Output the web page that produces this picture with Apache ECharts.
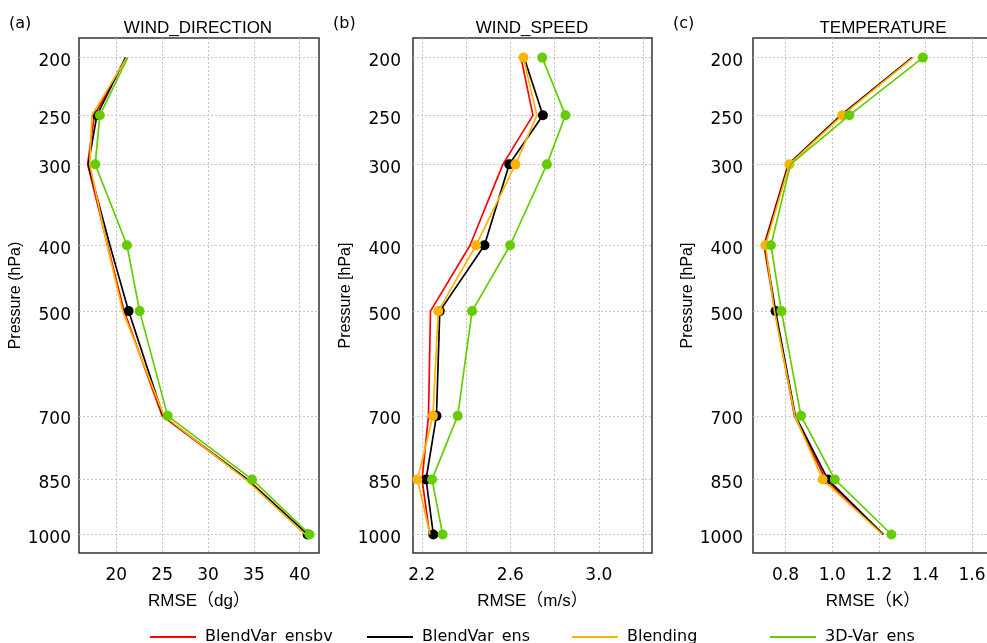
<!DOCTYPE html>
<html>
<head>
<meta charset="utf-8">
<script src="https://cdn.jsdelivr.net/npm/echarts@6/dist/echarts.min.js"></script>
<style>
  html, body { margin: 0; padding: 0; background: #ffffff; }
  #chart { width: 987px; height: 643px; }
</style>
</head>
<body>
<div id="chart"></div>
<script>
// Pressure levels (hPa) and labels
const levels = [200, 250, 300, 400, 500, 700, 850, 1000];
const seriesNames = ['BlendVar_ensbv', 'BlendVar_ens', 'Blending', '3D-Var_ens'];
const panelTitles = ['WIND_DIRECTION', 'WIND_SPEED', 'TEMPERATURE'];
const panelTags = ['(a)', '(b)', '(c)'];
const xAxisNames = ['RMSE（dg）', 'RMSE（m/s）', 'RMSE（K）'];
const yAxisNames = ['Pressure (hPa)', 'Pressure [hPa]', 'Pressure [hPa]'];

// x-axis grid / label positions per panel
const dirTicks = [20, 25, 30, 35, 40];
const dirLabels = [20, 25, 30, 35, 40];
const spdTicks = [2.2, 2.4, 2.6, 2.8, 3.0, 3.2];
const spdLabels = [2.2, 2.6, 3.0];
const tmpTicks = [0.8, 1.0, 1.2, 1.4, 1.6];
const tmpLabels = [0.8, 1.0, 1.2, 1.4, 1.6];

// RMSE profiles: wind direction (dg)
const dirEnsbv = [21.05, 17.60, 16.87, 19.05, 20.85, 25.00, 34.20, 40.65];
const dirEns   = [21.00, 17.88, 16.94, 19.30, 21.34, 25.10, 34.30, 40.85];
const dirBlend = [21.13, 17.34, 17.10, 19.00, 20.70, 25.20, 34.10, 40.60];
const dirVar   = [21.24, 18.20, 17.70, 21.16, 22.54, 25.60, 34.80, 41.07];

// RMSE profiles: wind speed (m/s)
const spdEnsbv = [2.648, 2.702, 2.566, 2.418, 2.239, 2.230, 2.201, 2.235];
const spdEns   = [2.662, 2.747, 2.595, 2.483, 2.281, 2.266, 2.219, 2.252];
const spdBlend = [2.659, 2.720, 2.623, 2.445, 2.274, 2.250, 2.180, 2.237];
const spdVar   = [2.744, 2.849, 2.765, 2.599, 2.427, 2.362, 2.246, 2.294];

// RMSE profiles: temperature (K)
const tmpEnsbv = [1.343, 1.036, 0.811, 0.707, 0.754, 0.838, 0.971, 1.217];
const tmpEns   = [1.343, 1.038, 0.813, 0.710, 0.757, 0.842, 0.981, 1.220];
const tmpBlend = [1.347, 1.043, 0.816, 0.713, 0.752, 0.840, 0.959, 1.215];
const tmpVar   = [1.389, 1.073, 0.821, 0.737, 0.782, 0.866, 1.011, 1.254];

// Levels flagged with a dot (1 = dot drawn)
const noMarks     = [0, 0, 0, 0, 0, 0, 0, 0];
const dirEnsMarks = [0, 1, 0, 0, 1, 0, 0, 1];
const dirVarMarks = [0, 1, 1, 1, 1, 1, 1, 1];
const spdEnsMarks   = [0, 1, 1, 1, 1, 1, 1, 1];
const spdBlendMarks = [1, 0, 1, 1, 1, 1, 1, 0];
const spdVarMarks   = [1, 1, 1, 1, 1, 1, 1, 1];
const tmpEnsMarks   = [0, 0, 0, 0, 1, 0, 1, 0];
const tmpBlendMarks = [0, 1, 1, 1, 0, 0, 1, 0];
const tmpVarMarks   = [1, 1, 0, 1, 1, 1, 1, 1];

const colors = ['#ff0000', '#000000', '#ffb300', '#66cc00'];

// Vertical coordinate: standard-atmosphere height of a pressure level
function heightOf(p) { return 44330.8 * (1 - Math.pow(p / 1013.25, 0.190263)); }
function pressureOf(h) { return 1013.25 * Math.pow(1 - h / 44330.8, 1 / 0.190263); }

const panels = [
  { values: [dirEnsbv, dirEns, dirBlend, dirVar], marks: [noMarks, dirEnsMarks, noMarks, dirVarMarks],
    ticks: dirTicks, labels: dirLabels, xmin: 15.93, xmax: 42.1, fmt: v => String(Math.round(v)),
    left: 79, width: 240, labelMargin: 8, nameGap: 48 },
  { values: [spdEnsbv, spdEns, spdBlend, spdVar], marks: [noMarks, spdEnsMarks, spdBlendMarks, spdVarMarks],
    ticks: spdTicks, labels: spdLabels, xmin: 2.16, xmax: 3.24, fmt: v => v.toFixed(1),
    left: 413, width: 239, labelMargin: 12, nameGap: 53 },
  { values: [tmpEnsbv, tmpEns, tmpBlend, tmpVar], marks: [noMarks, tmpEnsMarks, tmpBlendMarks, tmpVarMarks],
    ticks: tmpTicks, labels: tmpLabels, xmin: 0.66, xmax: 1.69, fmt: v => v.toFixed(1),
    left: 753, width: 240, labelMargin: 10, nameGap: 48 }
];

const titleCenters = [198, 532, 883];
const tagLefts = [9, 333, 673];

const levelHeights = levels.map(heightOf);
const yMin = heightOf(1055);
const yMax = heightOf(185);

const gridLine = { show: true, lineStyle: { color: '#c4c4c4', width: 1, type: [2, 2] } };
const tickFont = { fontFamily: 'DejaVu Sans', fontSize: 17, color: '#000' };
const nameFont = { fontFamily: 'Liberation Sans, Noto Sans CJK SC', fontSize: 17, color: '#000' };

const grid = [], xAxis = [], yAxis = [], series = [], graphic = [];

panels.forEach((pn, pi) => {
  grid.push({
    left: pn.left, top: 38, width: pn.width, height: 515,
    show: true, borderColor: '#333', borderWidth: 1.5, backgroundColor: 'transparent',
    outerBoundsMode: 'none'
  });
  xAxis.push({
    type: 'value', gridIndex: pi, min: pn.xmin, max: pn.xmax,
    axisLine: { show: false }, axisTick: { show: false, customValues: pn.ticks },
    splitLine: gridLine,
    axisLabel: Object.assign({ customValues: pn.labels, margin: 14, formatter: pn.fmt }, tickFont),
    name: xAxisNames[pi], nameLocation: 'middle', nameGap: 40, nameTextStyle: nameFont
  });
  yAxis.push({
    type: 'value', gridIndex: pi, min: yMin, max: yMax,
    axisLine: { show: false }, axisTick: { show: false, customValues: levelHeights },
    splitLine: gridLine,
    axisLabel: Object.assign({ customValues: levelHeights, margin: pn.labelMargin,
      verticalAlign: 'top', lineHeight: 8,
      formatter: v => String(Math.round(pressureOf(v))) }, tickFont),
    name: yAxisNames[pi], nameLocation: 'middle', nameGap: pn.nameGap,
    nameTextStyle: { fontFamily: 'Liberation Sans', fontSize: 16, color: '#000' }
  });
  pn.values.forEach((vals, si) => {
    const marks = pn.marks[si];
    series.push({
      name: seriesNames[si], type: 'line', xAxisIndex: pi, yAxisIndex: pi,
      data: levels.map((lv, i) => [vals[i], heightOf(lv)]),
      color: colors[si],
      lineStyle: { width: 1.7, color: colors[si] },
      itemStyle: { color: colors[si] },
      symbol: 'circle',
      symbolSize: (v, params) => (marks[params.dataIndex] ? 10 : 0),
      showSymbol: true, showAllSymbol: true,
      z: 2 + si, animation: false, silent: true
    });
  });
  graphic.push({
    type: 'text', x: titleCenters[pi], y: 28,
    style: { text: panelTitles[pi], align: 'center', verticalAlign: 'middle',
      font: '17px "Liberation Sans"', fill: '#000' }
  });
  graphic.push({
    type: 'text', x: tagLefts[pi], y: 24,
    style: { text: panelTags[pi], align: 'left', verticalAlign: 'middle',
      font: '16px "DejaVu Sans"', fill: '#000' }
  });
});

// One legend entry per series, laid out along the bottom
const legendLefts = [145, 362, 567, 765];
const legend = seriesNames.map((nm, i) => ({
  data: [nm], left: legendLefts[i], top: 623, padding: 5,
  icon: 'rect', itemWidth: 46, itemHeight: 2,
  textStyle: { fontFamily: 'DejaVu Sans', fontSize: 16, color: '#000', lineHeight: 18, padding: [0, 0, 0, 4] },
  selectedMode: false
}));

const chart = echarts.init(document.getElementById('chart'), null, { renderer: 'canvas' });
chart.setOption({
  backgroundColor: '#ffffff',
  animation: false,
  grid, xAxis, yAxis, series, legend, graphic
});
</script>
</body>
</html>
